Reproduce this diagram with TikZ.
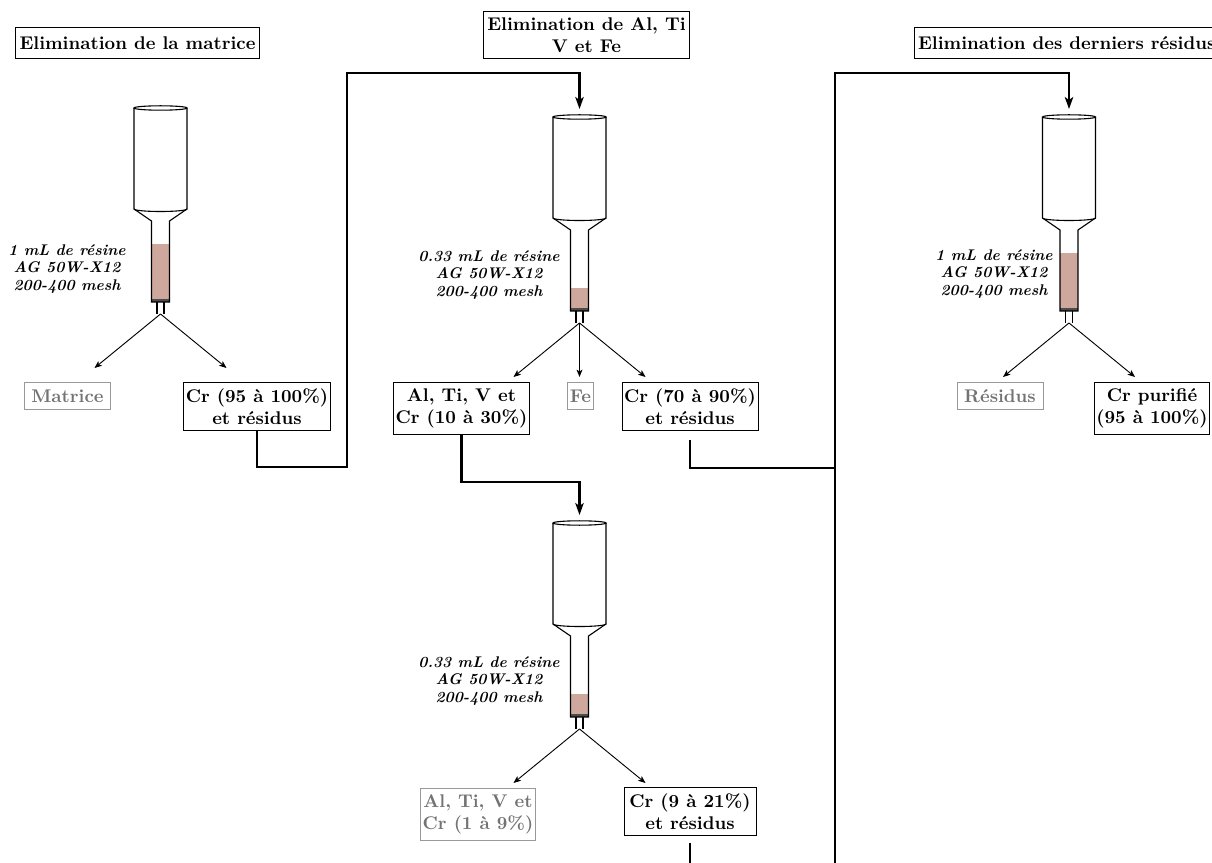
\documentclass[tikz,border=0pt]{standalone}
\usepackage{fontspec}
\usepackage{xcolor}
\usepackage{tikz}
\usetikzlibrary{calc,arrows,arrows.meta,positioning}
\definecolor{resine}{RGB}{206,168,157}
\tikzset{
  titre/.style={draw, align=center, inner xsep=2pt, inner ysep=3.3pt, minimum height=16.9pt, font=\bfseries},
  sortie/.style={draw, align=center, anchor=north, inner xsep=1.2pt, inner ysep=3.3pt, minimum height=14.7pt, font=\bfseries},
  rejet/.style={sortie, draw=black!40, text=black!55},
  legende/.style={align=center, font=\fontsize{8.4}{9.6}\selectfont\bfseries\itshape},
  trait/.style={line width=1.1pt},
  lien/.style={trait, -{Stealth[length=6.5pt, width=4.6pt, inset=1.6pt]}},
  fleche/.style={line width=0.5pt, -{Stealth[length=4pt, width=3.2pt, inset=1pt]}},
  tube/.style={line width=0.6pt}
}
% colonne : x, y du haut, niveau de la resine, nom
\newcommand{\colonne}[4]{%
  \begin{scope}[shift={(#1,#2)}]
    \fill[resine] (-9,#3) rectangle (9,191);
    \fill[black!70] (-9,191) rectangle (9,194);
    \draw[tube] (-26.5,0) -- (-26.5,101) -- (-9,113) -- (-9,194) -- (9,194) -- (9,113) -- (26.5,101) -- (26.5,0);
    \draw[tube, fill=white] (0,0) ellipse (26.5 and 2.2);
    \draw[tube] (-26.5,101) arc (180:0:26.5 and 2.5);
    \draw[tube] (-3.5,194) -- (-3.5,206) (3.5,194) -- (3.5,206);
    \coordinate (#4e) at (0,-8);
    \coordinate (#4s) at (0,206);
    \coordinate (#4g) at (-66,260);
    \coordinate (#4m) at (0,260);
    \coordinate (#4d) at (66,260);
  \end{scope}}

\begin{document}
\begin{tikzpicture}[x=0.544pt, y=-0.544pt]
  \useasboundingbox (0,0) rectangle (1212,863);
  \clip (0,0) rectangle (1212,863);

  % titres
  \node[titre, anchor=south] (t1) at (137.5,59) {Elimination de la matrice};
  \node[titre, anchor=south] (t2) at (586.5,59) {Elimination de Al, Ti\\V et Fe};
  \node[titre, anchor=south west] (t3) at (914,59) {Elimination des derniers résidus};

  % colonnes
  \colonne{160.5}{108}{136}{c1}
  \colonne{579.5}{117}{171}{c2}
  \colonne{579.5}{523}{171}{c3}
  \colonne{1069}{117}{136}{c4}

  \node[legende] (l1) at (67,269) {1 mL de résine\\AG 50W-X12\\200-400 mesh};
  \node[legende] (l2) at (489,275) {0.33 mL de résine\\AG 50W-X12\\200-400 mesh};
  \node[legende] (l3) at (489,681) {0.33 mL de résine\\AG 50W-X12\\200-400 mesh};
  \node[legende] (l4) at (994,274) {1 mL de résine\\AG 50W-X12\\200-400 mesh};

  % fractions
  \node[rejet, minimum width=47pt] (matrice) at (67.5,382) {Matrice};
  \node[sortie] (cr1) at (257,382) {Cr (95 à 100\%)\\et résidus};
  \node[sortie] (alti1) at (461.5,382) {Al, Ti, V et\\Cr (10 à 30\%)};
  \node[rejet] (fe) at (580.5,382) {Fe};
  \node[sortie] (cr2) at (690,382) {Cr (70 à 90\%)\\et résidus};
  \node[rejet] (alti2) at (478,788) {Al, Ti, V et\\Cr (1 à 9\%)};
  \node[sortie, minimum width=71.8pt] (cr3) at (690,787) {Cr (9 à 21\%)\\et résidus};
  \node[rejet, minimum width=46.8pt] (residus) at (1000,382) {Résidus};
  \node[sortie] (crpur) at (1152,382) {Cr purifié\\(95 à 100\%)};

  % sorties des colonnes
  \draw[fleche] (c1s) -- (c1g);
  \draw[fleche] (c1s) -- (c1d);
  \draw[fleche] (c2s) -- (c2g);
  \draw[fleche] (c2s) -- (c2m);
  \draw[fleche] (c2s) -- (c2d);
  \draw[fleche] (c3s) -- (c3g);
  \draw[fleche] (c3s) -- (c3d);
  \draw[fleche] (c4s) -- (c4g);
  \draw[fleche] (c4s) -- (c4d);

  % liens entre etapes
  \draw[lien] (cr1.south) |- (347,467) -- (347,73) -| (c2e);
  \draw[lien] (alti1.south) -- (461.5,482) -| (c3e);
  \draw[lien, shorten <=5pt] (cr2.south) |- (835,468) -- (835,73) -| (c4e);
  \draw[trait, shorten <=4pt] (cr3.south) -- (690,900) -| (835,468);
\end{tikzpicture}
\end{document}
